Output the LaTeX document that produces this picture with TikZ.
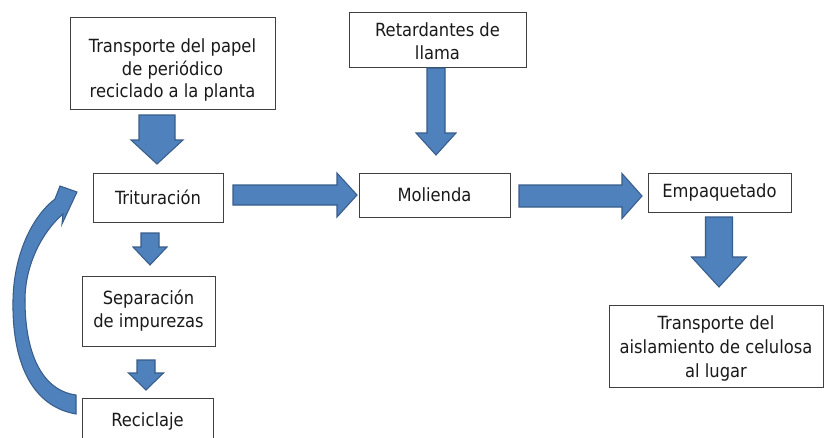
\documentclass[tikz,border=0pt]{standalone}
\usepackage{fontspec}
\setmainfont{DejaVu Sans Condensed}
\definecolor{afill}{HTML}{4F81BD}
\definecolor{aline}{HTML}{385D8A}
\definecolor{bline}{HTML}{404040}
\definecolor{txt}{HTML}{1A1A1A}
\newcommand{\varr}[6]{%
  \draw[barrow] ({#1-#5/2},#2) -- ({#1+#5/2},#2) -- ({#1+#5/2},#3) -- ({#1+#6/2},#3) -- (#1,#4) -- ({#1-#6/2},#3) -- ({#1-#5/2},#3) -- cycle;}
\newcommand{\harr}[6]{%
  \draw[barrow] (#2,{#1-#5/2}) -- (#3,{#1-#5/2}) -- (#3,{#1-#6/2}) -- (#4,#1) -- (#3,{#1+#6/2}) -- (#3,{#1+#5/2}) -- (#2,{#1+#5/2}) -- cycle;}
\begin{document}
\begin{tikzpicture}[x=0.03cm,y=-0.03cm,
  box/.style={draw=bline,line width=0.7pt,fill=white,rectangle,align=center,inner sep=0pt,
    text=txt,font=\fontsize{15.5}{19.5}\selectfont},
  lbl/.style={align=center,inner sep=0pt,text=txt,font=\fontsize{15.5}{19.5}\selectfont},
  barrow/.style={fill=afill,draw=aline,line width=0.9pt,line join=miter}]
\useasboundingbox (0,0) rectangle (825,437);
\clip (0,0) rectangle (825,437);
\fill[white] (0,0) rectangle (825,437);
% boxes
\node[box,minimum width=6.15cm,minimum height=2.76cm] (t1) at (172.5,63) {};
\node[lbl] (t1txt) at (172.5,70) {Transporte del papel\\de periódico\\reciclado a la planta};
\node[box,minimum width=5.31cm,minimum height=1.65cm] (ret) at (437.5,39.5) {};
\node[lbl] (rettxt) at (437.5,41.5) {Retardantes de\\llama};
\node[box,minimum width=3.9cm,minimum height=1.47cm] (tri) at (158,197.5) {Trituración};
\node[box,minimum width=4.53cm,minimum height=1.32cm] (mol) at (434.5,195) {Molienda};
\node[box,minimum width=4.29cm,minimum height=1.17cm] (emp) at (719.5,192.5) {Empaquetado};
\node[box,minimum width=3.99cm,minimum height=2.1cm] (sep) at (148.5,311) {Separación\\de impurezas};
\node[box,minimum width=3.93cm,minimum height=1.38cm] (rec) at (147.5,421) {Reciclaje};
\node[box,minimum width=6.42cm,minimum height=2.46cm] (t2) at (716,346) {};
\node[lbl,font=\fontsize{15.5}{20.5}\selectfont] (t2txt) at (716,348) {Transporte del\\aislamiento de celulosa\\al lugar};
% block arrows
\varr{157}{115}{140}{164}{36}{52}
\harr{195}{233}{337}{357}{20}{44}
\varr{436}{68}{133}{155}{18}{40}
\harr{196}{519}{622}{642}{22}{45}
\varr{719}{217}{257}{287}{27}{55}
\varr{150}{233}{247}{265}{18}{34}
\varr{146}{360}{373}{390}{18}{35}
% curved arrow Reciclaje -> Trituracion
\draw[barrow] (76,414) .. controls (25,405) and (12,350) .. (13,300)
  .. controls (14,250) and (35,214) .. (55,199) -- (60,186) -- (77,192) -- (62,224)
  -- (63,214) .. controls (42,232) and (25,265) .. (25,300)
  .. controls (25,350) and (40,390) .. (76,395) -- cycle;
\end{tikzpicture}
\end{document}
